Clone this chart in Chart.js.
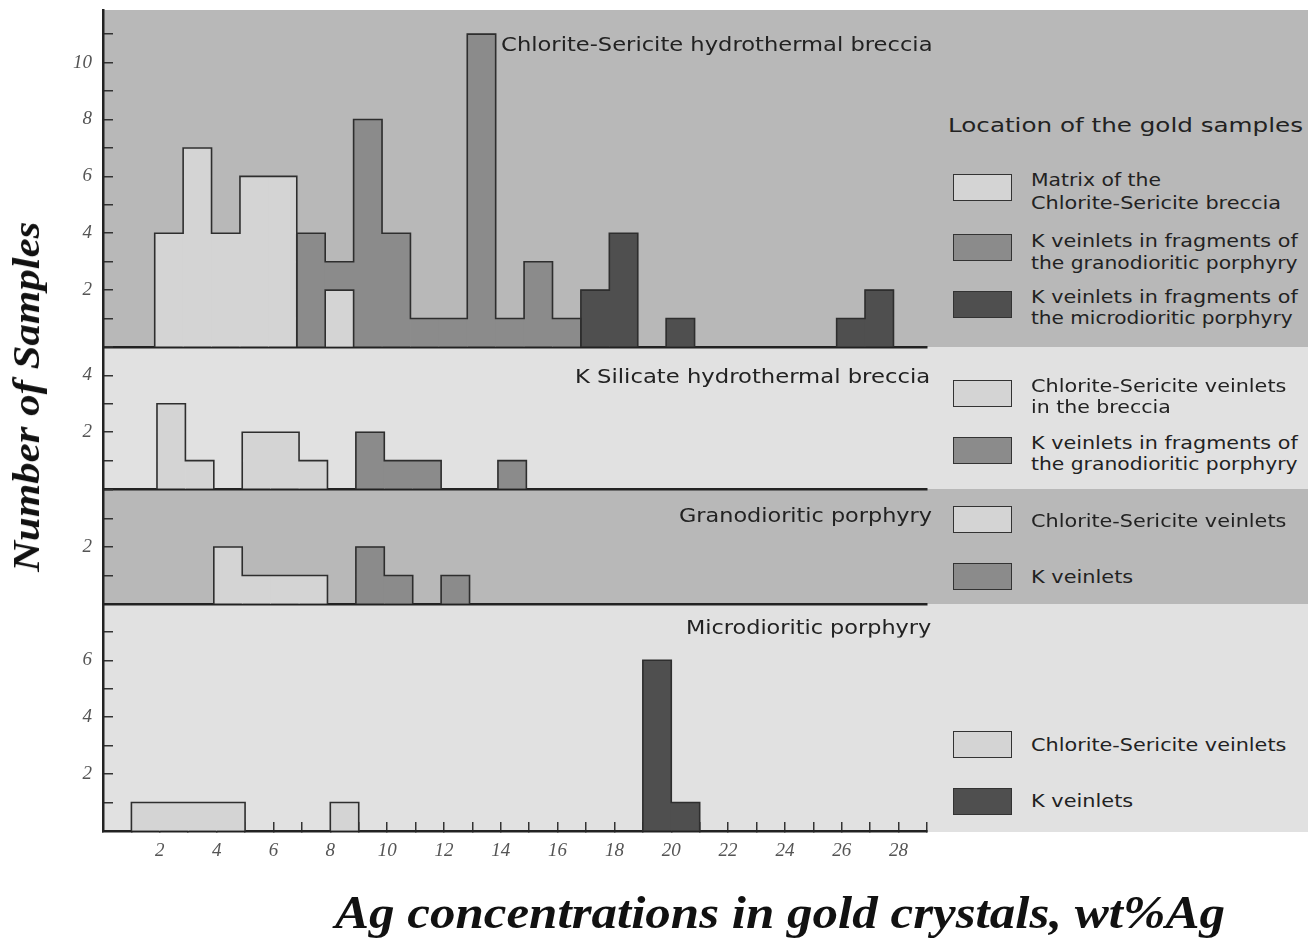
<!DOCTYPE html>
<html>
<head>
<meta charset="utf-8">
<script src="https://cdn.jsdelivr.net/npm/chart.js@4.4.1/dist/chart.umd.min.js"></script>
<style>
html,body{margin:0;padding:0;background:#fff;}
#wrap{position:relative;width:1315px;height:944px;overflow:hidden;font-family:"DejaVu Sans",sans-serif;color:#222;}
.bg{position:absolute;left:103px;width:1205px;}
canvas{position:absolute;left:0;}
.t{position:absolute;white-space:nowrap;line-height:1;}
.box{position:absolute;left:953px;width:57px;height:25px;border:1.5px solid #333;}
</style>
</head>
<body>
<div id="wrap"></div>
<script>
// ---------------- DATA ----------------
// x tick labels (wt% Ag) and y tick labels per panel
const xLabelValues = [2,4,6,8,10,12,14,16,18,20,22,24,26,28];
const yLabels1 = [2,4,6,8,10];
const yLabels2 = [2,4];
const yLabels3 = [2];
const yLabels4 = [2,4,6];

// Panel titles
const panelTitles = [
  'Chlorite-Sericite hydrothermal breccia',
  'K Silicate hydrothermal breccia',
  'Granodioritic porphyry',
  'Microdioritic porphyry'
];

// Panel 1: Chlorite-Sericite hydrothermal breccia (bin start -> count)
const csMatrixBins   = [2,3,4,5,6,8];
const csMatrixCounts = [4,7,4,6,6,2];
const csKGranoBins   = [7,8,9,10,11,12,13,14,15,16];
const csKGranoCounts = [4,3,8,4,1,1,11,1,3,1];
const csKMicroBins   = [17,18,20,26,27];
const csKMicroCounts = [2,4,1,1,2];

// Panel 2: K Silicate hydrothermal breccia
const ksCsBins     = [2,3,5,6,7];
const ksCsCounts   = [3,1,2,2,1];
const ksKGranoBins   = [9,10,11,14];
const ksKGranoCounts = [2,1,1,1];

// Panel 3: Granodioritic porphyry
const gpCsBins   = [4,5,6,7];
const gpCsCounts = [2,1,1,1];
const gpKBins    = [9,10,12];
const gpKCounts  = [2,1,1];

// Panel 4: Microdioritic porphyry
const mpCsBins   = [1,2,3,4,8];
const mpCsCounts = [1,1,1,1,1];
const mpKBins    = [19,20];
const mpKCounts  = [6,1];

// Legend labels
const legendHeading = 'Location of the gold samples';
const legend1 = [['Matrix of the','Chlorite-Sericite breccia'],['K veinlets in fragments of','the granodioritic porphyry'],['K veinlets in fragments of','the microdioritic porphyry']];
const legend2 = [['Chlorite-Sericite veinlets','in the breccia'],['K veinlets in fragments of','the granodioritic porphyry']];
const legend3 = [['Chlorite-Sericite veinlets'],['K veinlets']];
const legend4 = [['Chlorite-Sericite veinlets'],['K veinlets']];

const xTitle = 'Ag concentrations in gold crystals, wt%Ag';
const yTitle = 'Number of Samples';

// ---------------- STYLE ----------------
const LIGHT = '#d4d4d4', MID = '#8b8b8b', DARK = '#4f4f4f';
const BG_DARK = '#b8b8b8', BG_LIGHT = '#e1e1e1';
const LINE = '#2e2e2e';
const wrap = document.getElementById('wrap');

function addBg(top, h, color){
  const d = document.createElement('div');
  d.className = 'bg'; d.style.top = top+'px'; d.style.height = h+'px'; d.style.background = color;
  wrap.appendChild(d);
}
addBg(10, 337, BG_DARK);
addBg(347, 142, BG_LIGHT);
addBg(489, 115, BG_DARK);
addBg(604, 228, BG_LIGHT);

const tickFont = {family:'Liberation Serif', style:'italic', size:19};

let orderSeq = 1;
// filled histogram bars (no border)
function bars(label, bins, counts, color){
  return {
    label, data: bins.map((b,i)=>({x:b+0.5, y:counts[i]})),
    backgroundColor: color, borderWidth:0, order: orderSeq++,
    grouped:false, barPercentage:1, categoryPercentage:1
  };
}
// step outline of the same histogram series
function outline(bins, counts){
  const pts = [];
  for (let i=0;i<bins.length;i++){
    const a = bins[i], c = counts[i];
    const newRun = i===0 || bins[i-1] !== a-1;
    if (newRun){
      if (i>0) pts.push({x:a, y:null});
      pts.push({x:a, y:0});
    }
    pts.push({x:a, y:c});
    pts.push({x:a+1, y:c});
    const endRun = i===bins.length-1 || bins[i+1] !== a+1;
    if (endRun) pts.push({x:a+1, y:0});
  }
  return {type:'line', data:pts, borderColor:LINE, borderWidth:1.6, pointRadius:0,
          fill:false, tension:0, spanGaps:false, order:-1};
}
function series(label, bins, counts, color){
  return [bars(label, bins, counts, color), outline(bins, counts)];
}

function makePanel(top, bottom, ymax, yLabels, shift, datasets, showX){
  const c = document.createElement('canvas');
  const W = 940;
  const H = 4 + (bottom-top) + (showX ? 47 : 4);
  c.width = W; c.height = H;
  c.style.width = W+'px'; c.style.height = H+'px';
  c.style.top = (top-4)+'px';
  wrap.appendChild(c);
  new Chart(c, {
    type:'bar',
    data:{datasets},
    options:{
      responsive:false, animation:false, devicePixelRatio:1,
      layout:{padding:{left:0,right:13,top:4,bottom: showX?2:4}},
      plugins:{legend:{display:false}, tooltip:{enabled:false}},
      scales:{
        x:{
          type:'linear', min:0+shift, max:29+shift, offset:false, z:1,
          afterFit: s => { s.height = showX ? 45 : 0; s.paddingLeft = 0; s.paddingRight = 0; },
          grid:{display:true, offset:false, drawOnChartArea:false, drawTicks:showX, tickLength:-9, color:'#333', lineWidth:1.5},
          border:{display:true, color:'#222', width:2.5},
          ticks:{display:showX, stepSize:1, autoSkip:false, maxRotation:0, minRotation:0, includeBounds:false,
                 padding:18, color:'#555', font:tickFont,
                 callback: v => xLabelValues.includes(v) ? String(v) : ''}
        },
        y:{
          min:0, max:ymax, z:1,
          afterFit: s => { s.width = 103; s.paddingTop = 0; s.paddingBottom = 0; },
          grid:{drawOnChartArea:false, drawTicks:true, tickLength:-10, color:'#333', lineWidth:1.5},
          border:{display:true, color:'#222', width:2.5},
          ticks:{stepSize:1, includeBounds:false, autoSkip:false, padding:21, color:'#555', font:tickFont,
                 callback: v => yLabels.includes(v) ? String(v) : ''}
        }
      }
    }
  });
}

makePanel(10, 347, 11.85, yLabels1, 0.18, [
  ...series('Matrix of the Chlorite-Sericite breccia', csMatrixBins, csMatrixCounts, LIGHT),
  ...series('K veinlets in fragments of the granodioritic porphyry', csKGranoBins, csKGranoCounts, MID),
  ...series('K veinlets in fragments of the microdioritic porphyry', csKMicroBins, csKMicroCounts, DARK)
], false);
makePanel(347, 489, 5, yLabels2, 0.1, [
  ...series('Chlorite-Sericite veinlets in the breccia', ksCsBins, ksCsCounts, LIGHT),
  ...series('K veinlets in fragments of the granodioritic porphyry', ksKGranoBins, ksKGranoCounts, MID)
], false);
makePanel(489, 604, 4.04, yLabels3, 0.1, [
  ...series('Chlorite-Sericite veinlets', gpCsBins, gpCsCounts, LIGHT),
  ...series('K veinlets', gpKBins, gpKCounts, MID)
], false);
makePanel(604, 831, 7.98, yLabels4, 0, [
  ...series('Chlorite-Sericite veinlets', mpCsBins, mpCsCounts, LIGHT),
  ...series('K veinlets', mpKBins, mpKCounts, DARK)
], true);

// ---------------- TEXT ----------------
function addText(txt, o){
  const el = document.createElement('div');
  el.className = 't';
  el.textContent = txt;
  el.style.fontSize = o.size+'px';
  if (o.family) el.style.fontFamily = o.family;
  if (o.weight) el.style.fontWeight = o.weight;
  if (o.style) el.style.fontStyle = o.style;
  el.style.color = o.color || '#222';
  wrap.appendChild(el);
  const nat = el.offsetWidth;
  const sx = o.w ? o.w / nat : 1;
  if (o.rotate){
    el.style.left = o.x+'px'; el.style.top = o.cy+'px';
    el.style.transformOrigin = 'left top';
    el.style.transform = `rotate(-90deg) translate(${-o.w/2}px,-50%) scale(${sx},1)`;
  } else if (o.align === 'right'){
    el.style.right = (1315 - o.x)+'px'; el.style.top = o.cy+'px';
    el.style.transformOrigin = 'right top';
    el.style.transform = `translateY(-50%) scaleX(${sx})`;
  } else {
    el.style.left = o.x+'px'; el.style.top = o.cy+'px';
    el.style.transformOrigin = 'left top';
    el.style.transform = `translateY(-50%) scaleX(${sx})`;
  }
  return el;
}
function addBox(top, color){
  const b = document.createElement('div');
  b.className = 'box'; b.style.top = top+'px'; b.style.background = color;
  wrap.appendChild(b);
}

// panel titles
addText(panelTitles[0], {x:932, cy:44, w:432, size:19, align:'right'});
addText(panelTitles[1], {x:930, cy:376, w:355, size:19, align:'right'});
addText(panelTitles[2], {x:932, cy:515, w:253, size:19, align:'right'});
addText(panelTitles[3], {x:931, cy:627, w:245, size:19, align:'right'});

// legends
const LSZ = 18;
addText(legendHeading, {x:948, cy:125, w:355, size:19});
const legendWidths = {'Matrix of the':130,'Chlorite-Sericite breccia':250,'K veinlets in fragments of':267,
  'the granodioritic porphyry':266,'the microdioritic porphyry':262,'Chlorite-Sericite veinlets':255,
  'in the breccia':140,'K veinlets':102};
function legendItem(lines, boxTop, cys, color){
  addBox(boxTop, color);
  lines.forEach((ln,i)=> addText(ln, {x:1031, cy:cys[i], w:legendWidths[ln], size:LSZ}));
}
legendItem(legend1[0], 174, [180,203], LIGHT);
legendItem(legend1[1], 234, [241,263], MID);
legendItem(legend1[2], 291, [297,318], DARK);
legendItem(legend2[0], 380, [386,407], LIGHT);
legendItem(legend2[1], 437, [443,464], MID);
legendItem(legend3[0], 506, [521], LIGHT);
legendItem(legend3[1], 563, [577], MID);
legendItem(legend4[0], 731, [745], LIGHT);
legendItem(legend4[1], 788, [801], DARK);

// axis titles
addText(xTitle, {x:335, cy:912, w:890, size:47, family:'Liberation Serif', weight:'bold', style:'italic', color:'#111'});
addText(yTitle, {x:26, cy:397, w:350, size:38, family:'Liberation Serif', weight:'bold', style:'italic', color:'#111', rotate:true});
</script>
</body>
</html>
